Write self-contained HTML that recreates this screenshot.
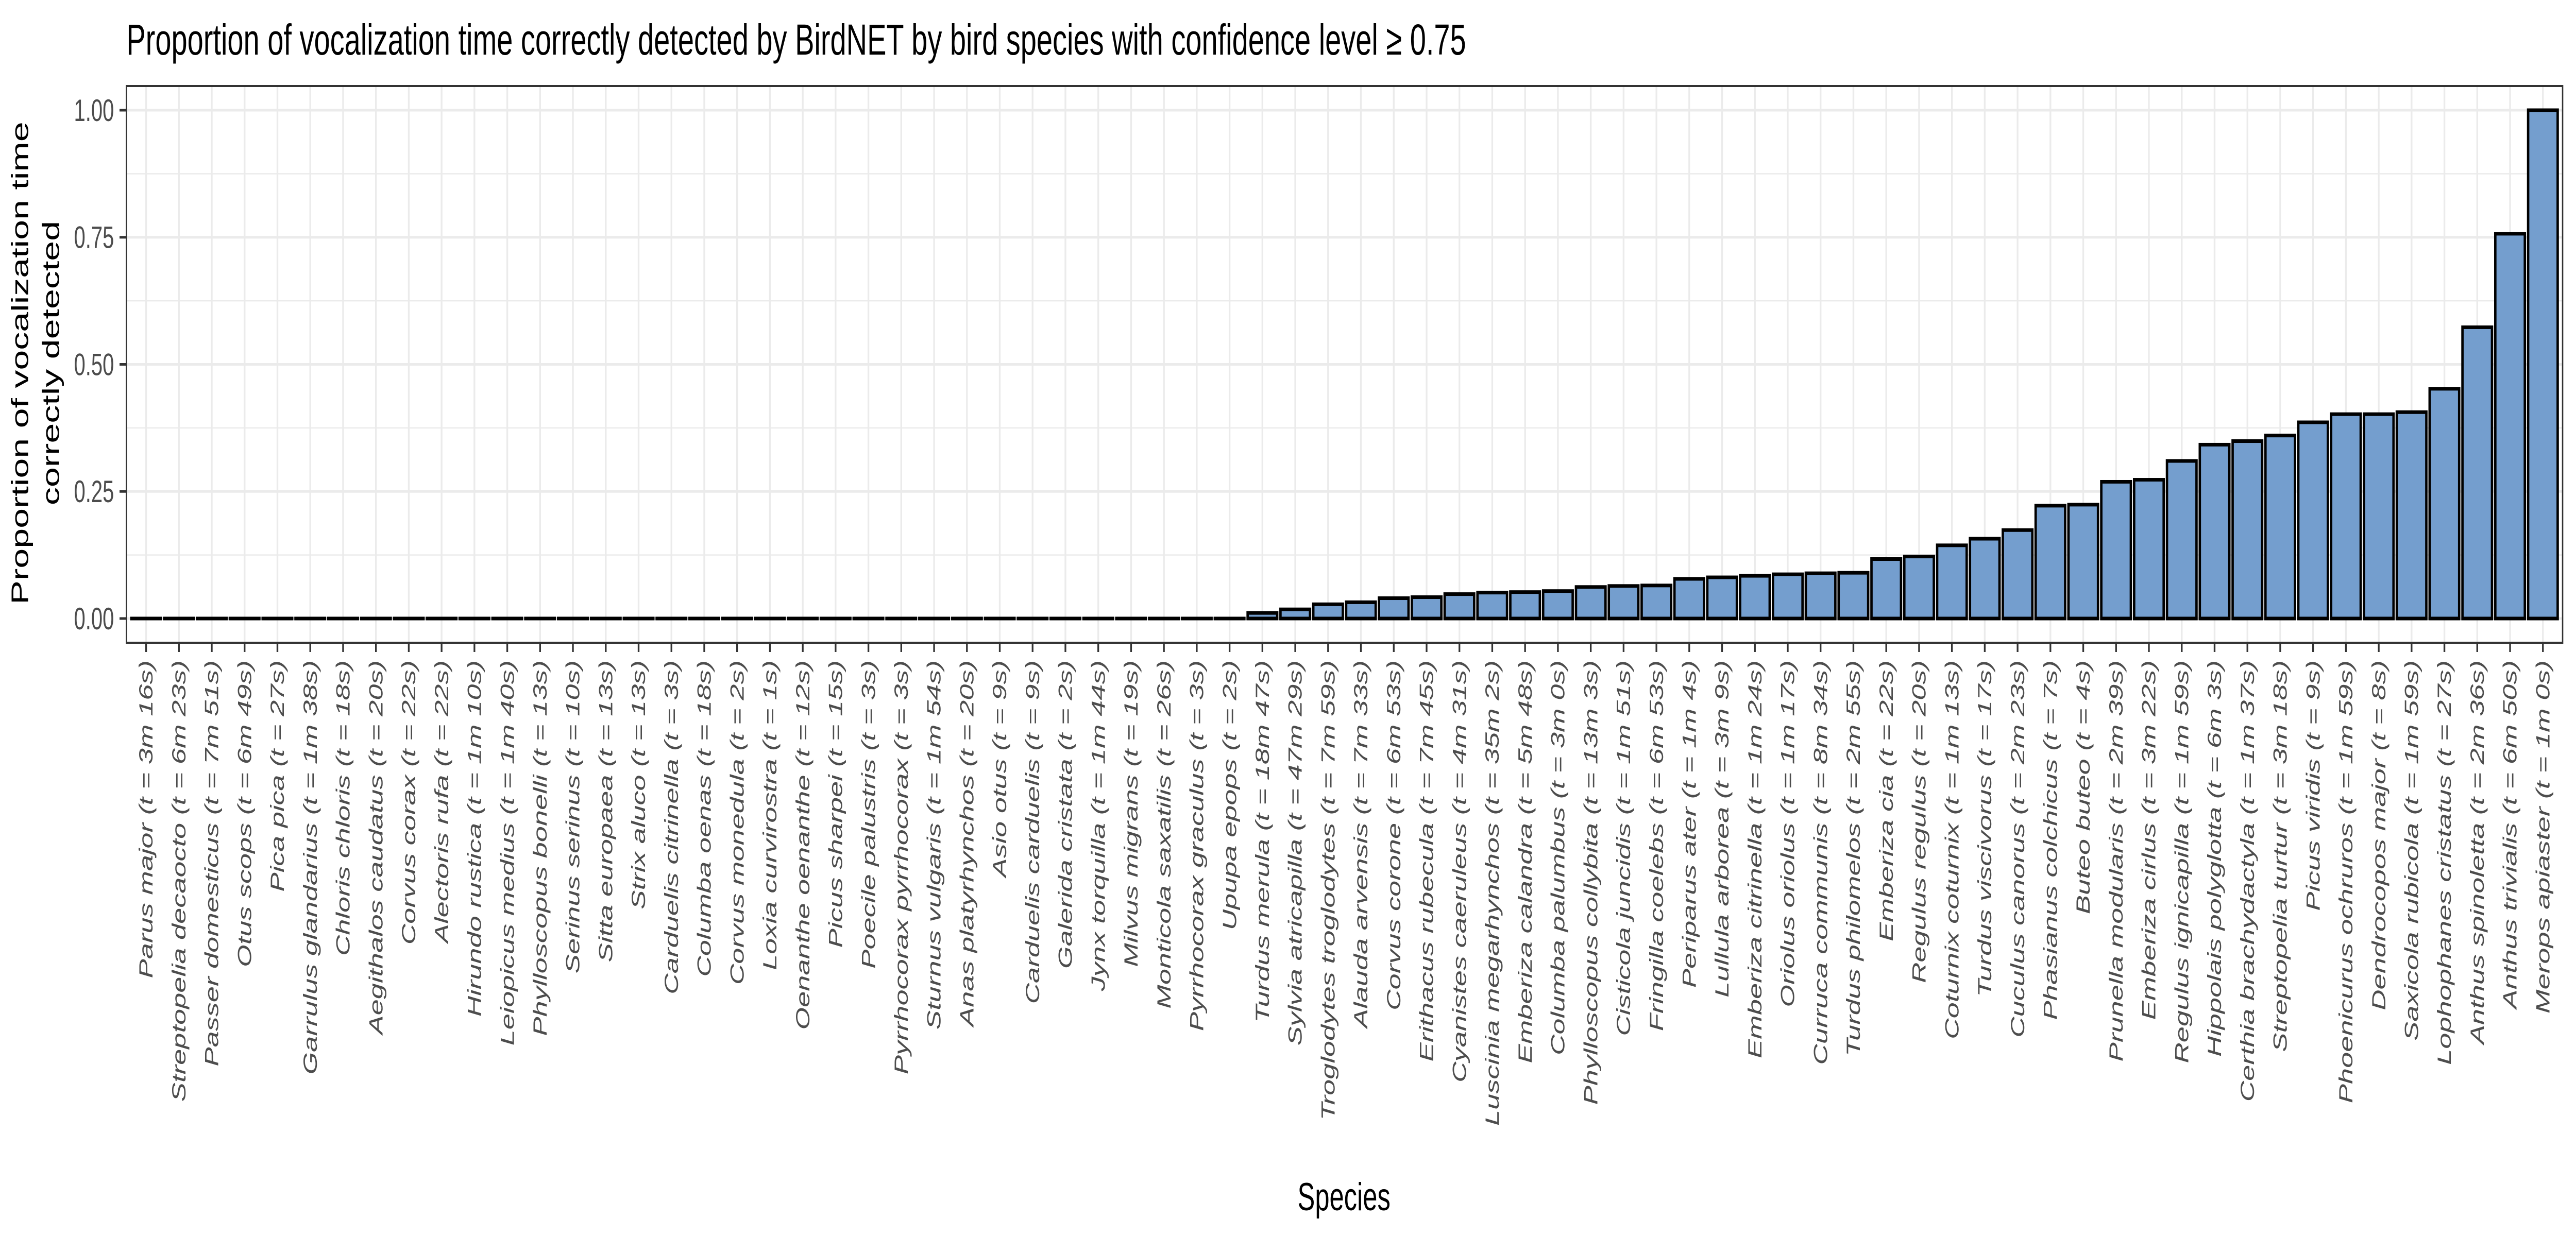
<!DOCTYPE html>
<html><head><meta charset="utf-8"><style>
html,body{margin:0;padding:0;background:#fff;width:100%;height:100%;overflow:hidden;}
svg{display:block;width:100vw;height:100vh;font-family:"Liberation Sans",Arial,sans-serif;}
</style></head><body>
<svg id="chart" viewBox="0 0 7500 2400" preserveAspectRatio="none" xmlns="http://www.w3.org/2000/svg">
<rect x="0" y="0" width="7500" height="2400" fill="#fff"/>
<text x="368" y="106" font-size="84" fill="#000">Proportion of vocalization time correctly detected by BirdNET by bird species with confidence level ≥ 0.75</text>
<g id="grid"></g>
<g id="bars"></g>
<rect x="368" y="167" width="7093" height="1081" fill="none" stroke="#333" stroke-width="4"/>
<g id="yaxis"></g>
<g id="xaxis"></g>
<text transform="translate(82,705) rotate(-90)" text-anchor="middle" font-size="70" fill="#000"><tspan x="0" y="0">Proportion of vocalization time</tspan><tspan x="0" y="90">correctly detected</tspan></text>
<text x="3913" y="2350" text-anchor="middle" font-size="76" fill="#000">Species</text>
</svg>
<script>
const categories = ["Parus major (t = 3m 16s)","Streptopelia decaocto (t = 6m 23s)","Passer domesticus (t = 7m 51s)","Otus scops (t = 6m 49s)","Pica pica (t = 27s)","Garrulus glandarius (t = 1m 38s)","Chloris chloris (t = 18s)","Aegithalos caudatus (t = 20s)","Corvus corax (t = 22s)","Alectoris rufa (t = 22s)","Hirundo rustica (t = 1m 10s)","Leiopicus medius (t = 1m 40s)","Phylloscopus bonelli (t = 13s)","Serinus serinus (t = 10s)","Sitta europaea (t = 13s)","Strix aluco (t = 13s)","Carduelis citrinella (t = 3s)","Columba oenas (t = 18s)","Corvus monedula (t = 2s)","Loxia curvirostra (t = 1s)","Oenanthe oenanthe (t = 12s)","Picus sharpei (t = 15s)","Poecile palustris (t = 3s)","Pyrrhocorax pyrrhocorax (t = 3s)","Sturnus vulgaris (t = 1m 54s)","Anas platyrhynchos (t = 20s)","Asio otus (t = 9s)","Carduelis carduelis (t = 9s)","Galerida cristata (t = 2s)","Jynx torquilla (t = 1m 44s)","Milvus migrans (t = 19s)","Monticola saxatilis (t = 26s)","Pyrrhocorax graculus (t = 3s)","Upupa epops (t = 2s)","Turdus merula (t = 18m 47s)","Sylvia atricapilla (t = 47m 29s)","Troglodytes troglodytes (t = 7m 59s)","Alauda arvensis (t = 7m 33s)","Corvus corone (t = 6m 53s)","Erithacus rubecula (t = 7m 45s)","Cyanistes caeruleus (t = 4m 31s)","Luscinia megarhynchos (t = 35m 2s)","Emberiza calandra (t = 5m 48s)","Columba palumbus (t = 3m 0s)","Phylloscopus collybita (t = 13m 3s)","Cisticola juncidis (t = 1m 51s)","Fringilla coelebs (t = 6m 53s)","Periparus ater (t = 1m 4s)","Lullula arborea (t = 3m 9s)","Emberiza citrinella (t = 1m 24s)","Oriolus oriolus (t = 1m 17s)","Curruca communis (t = 8m 34s)","Turdus philomelos (t = 2m 55s)","Emberiza cia (t = 22s)","Regulus regulus (t = 20s)","Coturnix coturnix (t = 1m 13s)","Turdus viscivorus (t = 17s)","Cuculus canorus (t = 2m 23s)","Phasianus colchicus (t = 7s)","Buteo buteo (t = 4s)","Prunella modularis (t = 2m 39s)","Emberiza cirlus (t = 3m 22s)","Regulus ignicapilla (t = 1m 59s)","Hippolais polyglotta (t = 6m 3s)","Certhia brachydactyla (t = 1m 37s)","Streptopelia turtur (t = 3m 18s)","Picus viridis (t = 9s)","Phoenicurus ochruros (t = 1m 59s)","Dendrocopos major (t = 8s)","Saxicola rubicola (t = 1m 59s)","Lophophanes cristatus (t = 27s)","Anthus spinoletta (t = 2m 36s)","Anthus trivialis (t = 6m 50s)","Merops apiaster (t = 1m 0s)"];
const values = [0,0,0,0,0,0,0,0,0,0,0,0,0,0,0,0,0,0,0,0,0,0,0,0,0,0,0,0,0,0,0,0,0,0,
0.011,0.018,0.028,0.032,0.040,0.042,0.048,0.051,0.052,0.054,0.062,0.064,0.065,0.078,0.081,0.084,0.087,0.089,0.090,0.117,0.122,0.144,0.157,0.174,0.222,0.224,
0.269,0.273,0.310,0.342,0.349,0.360,0.386,0.402,0.402,0.406,0.452,0.573,0.757,1.0];
const yTicks = [0, 0.25, 0.5, 0.75, 1.0];
const yTickLabels = ["0.00","0.25","0.50","0.75","1.00"];
const yMinor = [0.125, 0.375, 0.625, 0.875];

const NS = "http://www.w3.org/2000/svg";
const PL = 368, PR = 7461, PT = 167, PB = 1248;
const Y0 = 1201, Y1 = 214;
const n = categories.length;
const step = (PR - PL) / (n + 0.2);
function xPos(i){ return PL + step * 0.6 + i * step; }
function yPos(v){ return Y0 + (Y1 - Y0) * v; }
function mk(tag, attrs, parent){ const e = document.createElementNS(NS, tag); for (const k in attrs) e.setAttribute(k, attrs[k]); parent.appendChild(e); return e; }

const grid = document.getElementById('grid');
const bars = document.getElementById('bars');
const yaxis = document.getElementById('yaxis');
const xaxis = document.getElementById('xaxis');

yMinor.forEach(v => {
  const l = mk('line', {x1: PL, x2: PR, y1: yPos(v), y2: yPos(v), stroke: '#EBEBEB', 'stroke-width': 2.5}, grid);
  
  
});
yTicks.forEach((v, k) => {
  const l = mk('line', {x1: PL, x2: PR, y1: yPos(v), y2: yPos(v), stroke: '#EBEBEB', 'stroke-width': 5}, grid);
  
  
  const t = mk('line', {x1: PL - 20, x2: PL, y1: yPos(v), y2: yPos(v), stroke: '#333', 'stroke-width': 5}, yaxis);
  
  
  const tx = mk('text', {x: PL - 36, y: yPos(v) + 21, 'text-anchor': 'end', 'font-size': 60, fill: '#4D4D4D'}, yaxis);
  
  
  tx.textContent = yTickLabels[k];
});
categories.forEach((c, i) => {
  const x = xPos(i);
  const g = mk('line', {x1: x, x2: x, y1: PT, y2: PB, stroke: '#EBEBEB', 'stroke-width': 5}, grid);
  
  
  const w = step * 0.9;
  const top = yPos(values[i]);
  const r = mk('rect', {x: x - w/2, y: top, width: w, height: Math.max(Y0 - top, 0.01), fill: '#749ECE', stroke: '#000', 'stroke-width': 7}, bars);
  
  
  const t = mk('line', {x1: x, x2: x, y1: PB, y2: PB + 18, stroke: '#333', 'stroke-width': 5}, xaxis);
  
  
  const tx = mk('text', {transform: 'translate(' + (x + 19) + ',1282) rotate(-90)', 'text-anchor': 'end', 'font-size': 56, 'font-style': 'italic', fill: '#4D4D4D'}, xaxis);
  
  
  tx.textContent = c;
});
</script>
</body></html>
